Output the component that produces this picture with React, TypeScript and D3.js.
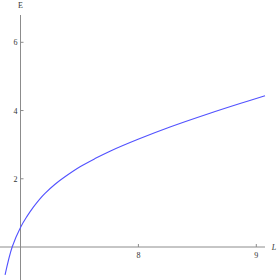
import React, { useRef, useEffect } from "react";
import * as d3 from "d3";

const width = 277;
const height = 280;

// curve
const lValues = [6.869, 6.93, 7.002, 7.055, 7.109, 7.165, 7.208, 7.293, 7.377, 7.505, 7.632, 7.759, 7.997, 8.268, 8.607, 8.862, 9.074];
const eValues = [-0.82, 0.006, 0.586, 0.897, 1.169, 1.413, 1.572, 1.839, 2.057, 2.351, 2.591, 2.808, 3.157, 3.517, 3.921, 4.206, 4.434];

const xTicks = [8, 9];
const yTicks = [2, 4, 6];

const App = () => {
  const ref = useRef<SVGSVGElement>(null);

  useEffect(() => {
    const svg = d3.select(ref.current);
    svg.selectAll("*").remove();

    const x = d3.scaleLinear().domain([7, 9]).range([20.5, 256.3]);
    const y = d3.scaleLinear().domain([0, 6]).range([247, 42.3]);
    const axisColor = "#8c8c8c";
    const font = "'Liberation Serif', 'Times New Roman', serif";

    // axes lines
    svg.append("line")
      .attr("x1", 0).attr("x2", 265)
      .attr("y1", y(0)).attr("y2", y(0))
      .attr("stroke", axisColor).attr("stroke-width", 1);
    svg.append("line")
      .attr("x1", x(7)).attr("x2", x(7))
      .attr("y1", 15).attr("y2", height)
      .attr("stroke", axisColor).attr("stroke-width", 1);

    // x ticks
    const xt = svg.selectAll("g.xt").data(xTicks).enter().append("g");
    xt.append("line")
      .attr("x1", d => x(d)).attr("x2", d => x(d))
      .attr("y1", y(0)).attr("y2", y(0) - 3)
      .attr("stroke", axisColor);
    xt.append("text")
      .attr("x", d => x(d)).attr("y", y(0) + 11)
      .attr("text-anchor", "middle")
      .style("font-family", font).style("font-size", "8px").attr("fill", "#333")
      .text(d => d);

    // y ticks
    const yt = svg.selectAll("g.yt").data(yTicks).enter().append("g");
    yt.append("line")
      .attr("x1", x(7)).attr("x2", x(7) + 3)
      .attr("y1", d => y(d)).attr("y2", d => y(d))
      .attr("stroke", axisColor);
    yt.append("text")
      .attr("x", x(7) - 3).attr("y", d => y(d) + 3)
      .attr("text-anchor", "end")
      .style("font-family", font).style("font-size", "8px").attr("fill", "#333")
      .text(d => d);

    // axis labels
    svg.append("text")
      .attr("x", x(7)).attr("y", 8)
      .attr("text-anchor", "middle")
      .style("font-family", font).style("font-size", "8px").attr("fill", "#333")
      .text("E");
    svg.append("text")
      .attr("x", 274).attr("y", y(0) + 3)
      .attr("text-anchor", "middle")
      .style("font-family", font).style("font-size", "8px").style("font-style", "italic").attr("fill", "#333")
      .text("L");

    // curve
    const points: [number, number][] = lValues.map((l, i) => [l, eValues[i]]);
    const line = d3.line<[number, number]>()
      .x(d => x(d[0]))
      .y(d => y(d[1]))
      .curve(d3.curveCatmullRom.alpha(0.5));
    svg.append("path")
      .datum(points)
      .attr("d", line)
      .attr("fill", "none")
      .attr("stroke", "#5252ff")
      .attr("stroke-width", 1.1);
  }, []);

  return (
    <div style={{ position: "absolute", left: 0, top: 0 }}>
      <svg ref={ref} width={width} height={height} style={{ display: "block", background: "#fff" }} />
    </div>
  );
};

export default App;
